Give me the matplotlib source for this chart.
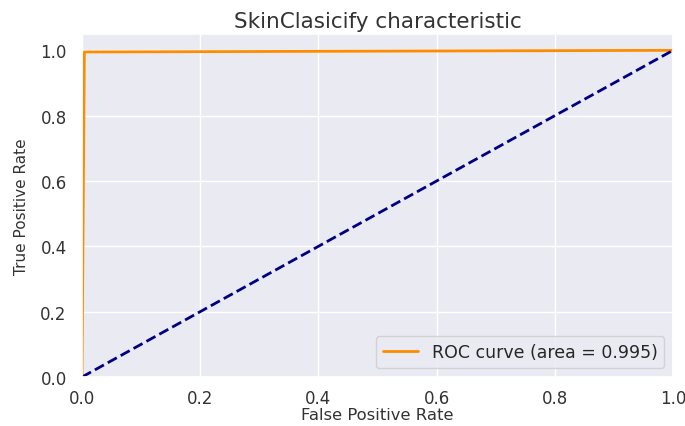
import matplotlib
matplotlib.use("Agg")
import matplotlib.pyplot as plt
import seaborn as sns

sns.set_theme(style="darkgrid")
plt.rcParams["font.family"] = ["DejaVu Sans"]

fpr = [0.0, 0.004, 1.0]
tpr = [0.0, 0.995, 1.0]
roc_auc = 0.995
chance = [0.0, 1.0]

fig, ax = plt.subplots(figsize=(6.85, 4.27), dpi=100)
fig.subplots_adjust(left=82 / 685, right=673 / 685, top=1 - 35 / 427, bottom=1 - 378 / 427)

ax.plot(fpr, tpr, color="darkorange", lw=2, label=f"ROC curve (area = {roc_auc:.3f})")
ax.plot(chance, chance, color="navy", lw=2, linestyle="--")
ax.set_xlim(0.0, 1.0)
ax.set_ylim(0.0, 1.05)
ax.set_xlabel("False Positive Rate", fontsize=11.8, labelpad=0, color="#333333")
ax.set_ylabel("True Positive Rate", fontsize=11, labelpad=8, color="#333333")
ax.set_title("SkinClasicify characteristic", fontsize=15.5, color="#333333", pad=5)
ax.tick_params(labelsize=12, colors="#333333")
ax.tick_params(axis="y", pad=5)
ax.tick_params(axis="x", pad=2.5)
ax.legend(loc="lower right", fontsize=12.5)

fig.savefig("out.png", dpi=100)
